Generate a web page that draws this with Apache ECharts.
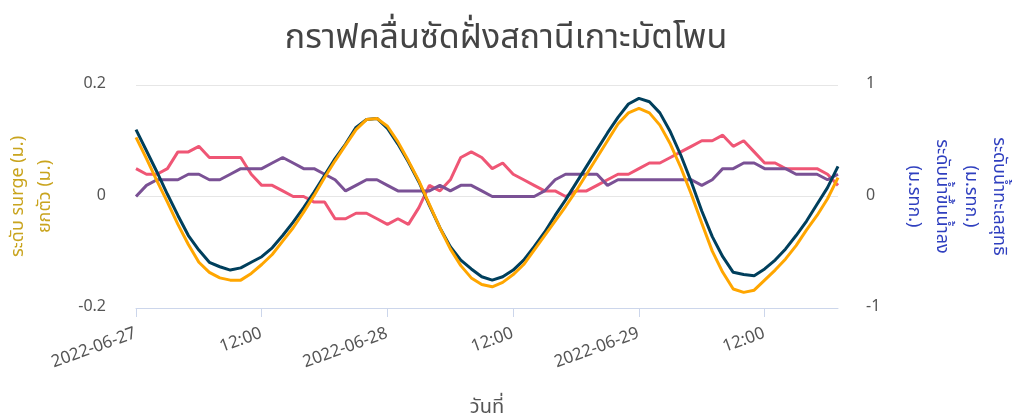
<!DOCTYPE html>
<html>
<head>
<meta charset="utf-8">
<title>กราฟคลื่นซัดฝั่งสถานีเกาะมัตโพน</title>
<script src="https://cdn.jsdelivr.net/npm/echarts@6/dist/echarts.min.js"></script>
<style>
  html, body { margin: 0; padding: 0; background: #ffffff; }
  #chart { width: 1012px; height: 416px; }
</style>
</head>
<body>
<div id="chart"></div>
<script>
// Hourly readings, 2022-06-27 00:00 to 2022-06-29 19:00
const startDate = new Date(2022, 5, 27, 0, 0);

// Net sea level (m. MSL), right axis
const netSeaLevel = [
  0.60, 0.41, 0.22, 0.02, -0.17, -0.35, -0.48, -0.59, -0.63, -0.66,
  -0.64, -0.59, -0.54, -0.46, -0.35, -0.23, -0.10, 0.04, 0.19, 0.34,
  0.47, 0.62, 0.69, 0.70, 0.61, 0.47, 0.31, 0.13, -0.08, -0.28,
  -0.45, -0.57, -0.65, -0.72, -0.75, -0.72, -0.66, -0.57, -0.45, -0.32,
  -0.17, -0.03, 0.12, 0.27, 0.42, 0.57, 0.71, 0.83, 0.88, 0.85,
  0.75, 0.58, 0.37, 0.13, -0.13, -0.36, -0.54, -0.68, -0.70, -0.71,
  -0.65, -0.57, -0.47, -0.35, -0.22, -0.07, 0.08, 0.27
];

// Astronomical tide (m. MSL), right axis
const tideLevel = [
  0.53, 0.34, 0.14, -0.05, -0.25, -0.43, -0.59, -0.68, -0.73, -0.75,
  -0.75, -0.69, -0.61, -0.52, -0.40, -0.28, -0.14, 0.01, 0.17, 0.32,
  0.46, 0.60, 0.69, 0.70, 0.63, 0.49, 0.32, 0.14, -0.07, -0.28,
  -0.47, -0.62, -0.73, -0.79, -0.81, -0.77, -0.70, -0.61, -0.48, -0.35,
  -0.22, -0.09, 0.05, 0.20, 0.35, 0.50, 0.65, 0.75, 0.79, 0.75,
  0.64, 0.47, 0.26, 0.02, -0.24, -0.49, -0.68, -0.83, -0.86, -0.84,
  -0.75, -0.66, -0.56, -0.44, -0.30, -0.17, -0.02, 0.17
];

// Storm surge (m.), left axis
const surgeLevel = [
  0.05, 0.04, 0.04, 0.05, 0.08, 0.08, 0.09, 0.07, 0.07, 0.07,
  0.07, 0.04, 0.02, 0.02, 0.01, 0.00, 0.00, -0.01, -0.01, -0.04,
  -0.04, -0.03, -0.03, -0.04, -0.05, -0.04, -0.05, -0.02, 0.02, 0.01,
  0.03, 0.07, 0.08, 0.07, 0.05, 0.06, 0.04, 0.03, 0.02, 0.01,
  0.01, 0.00, 0.01, 0.01, 0.02, 0.03, 0.04, 0.04, 0.05, 0.06,
  0.06, 0.07, 0.08, 0.09, 0.10, 0.10, 0.11, 0.09, 0.10, 0.08,
  0.06, 0.06, 0.05, 0.05, 0.05, 0.05, 0.04, 0.02
];

// Wave setup (m.), left axis
const setupLevel = [
  0.00, 0.02, 0.03, 0.03, 0.03, 0.04, 0.04, 0.03, 0.03, 0.04,
  0.05, 0.05, 0.05, 0.06, 0.07, 0.06, 0.05, 0.05, 0.04, 0.03,
  0.01, 0.02, 0.03, 0.03, 0.02, 0.01, 0.01, 0.01, 0.01, 0.02,
  0.01, 0.02, 0.02, 0.01, 0.00, 0.00, 0.00, 0.00, 0.00, 0.01,
  0.03, 0.04, 0.04, 0.04, 0.04, 0.02, 0.03, 0.03, 0.03, 0.03,
  0.03, 0.03, 0.03, 0.03, 0.02, 0.03, 0.05, 0.05, 0.06, 0.06,
  0.05, 0.05, 0.05, 0.04, 0.04, 0.04, 0.03, 0.04
];

const leftTicks = { min: -0.2, max: 0.2, step: 0.2 };
const rightTicks = { min: -1, max: 1, step: 1 };

const pad = n => String(n).padStart(2, '0');
const hourLabels = netSeaLevel.map((_, i) => {
  const d = new Date(startDate.getTime() + i * 3600 * 1000);
  return d.getFullYear() + '-' + pad(d.getMonth() + 1) + '-' + pad(d.getDate()) +
    ' ' + pad(d.getHours()) + ':00';
});

const FONT = '"Noto Sans Thai", "Noto Sans", sans-serif';
const everyHalfDay = idx => idx % 12 === 0;

const chart = echarts.init(document.getElementById('chart'), null, { renderer: 'canvas' });

const lineSeries = (name, data, color, axisIndex) => ({
  name: name,
  type: 'line',
  yAxisIndex: axisIndex,
  data: data,
  showSymbol: false,
  symbol: 'none',
  lineStyle: { color: color, width: 3 },
  itemStyle: { color: color },
  emphasis: { disabled: true },
  animation: false
});

chart.setOption({
  backgroundColor: '#ffffff',
  textStyle: { fontFamily: FONT },
  title: {
    text: 'กราฟคลื่นซัดฝั่งสถานีเกาะมัตโพน',
    left: 'center',
    top: 19,
    textStyle: { fontFamily: FONT, fontSize: 34, fontWeight: 'normal', color: '#444444' }
  },
  grid: { left: 136, right: 174, top: 85, bottom: 108, containLabel: false, outerBoundsMode: 'none' },
  xAxis: {
    type: 'category',
    data: hourLabels,
    boundaryGap: false,
    name: 'วันที่',
    nameLocation: 'middle',
    nameGap: 91,
    nameTextStyle: { fontFamily: FONT, fontSize: 20, color: '#555555' },
    axisLine: { onZero: false, lineStyle: { color: '#ccd6eb', width: 1 } },
    axisTick: { show: true, interval: everyHalfDay, length: 9, lineStyle: { color: '#ccd6eb' } },
    axisLabel: {
      interval: everyHalfDay,
      rotate: 20,
      margin: 26,
      fontFamily: FONT,
      fontSize: 17,
      color: '#555555',
      formatter: v => v.slice(11) === '00:00' ? v.slice(0, 10) : v.slice(11)
    },
    splitLine: { show: false }
  },
  yAxis: [
    {
      type: 'value',
      position: 'left',
      min: leftTicks.min,
      max: leftTicks.max,
      interval: leftTicks.step,
      name: 'ระดับ surge (ม.)\nยกตัว (ม.)',
      nameLocation: 'middle',
      nameGap: 76,
      nameTextStyle: { fontFamily: FONT, fontSize: 18, color: '#c9a41e', lineHeight: 27, align: 'center' },
      axisLine: { show: false },
      axisTick: { show: false },
      axisLabel: { fontFamily: FONT, fontSize: 16, color: '#555555', margin: 30 },
      splitLine: { show: true, lineStyle: { color: '#e6e6e6', width: 1 } }
    },
    {
      type: 'value',
      position: 'right',
      min: rightTicks.min,
      max: rightTicks.max,
      interval: rightTicks.step,
      name: 'ระดับน้ำทะเลสุทธิ\n(ม.รทก.)\nระดับน้ำขึ้นน้ำลง\n(ม.รทก.)',
      nameLocation: 'middle',
      nameRotate: -90,
      nameGap: 60,
      nameTextStyle: { fontFamily: FONT, fontSize: 18, color: '#2f3fbf', lineHeight: 28.5, align: 'center' },
      axisLine: { show: false },
      axisTick: { show: false },
      axisLabel: { fontFamily: FONT, fontSize: 16, color: '#555555', margin: 28 },
      splitLine: { show: false }
    }
  ],
  series: [
    lineSeries('ระดับ surge', surgeLevel, '#ef5675', 0),
    lineSeries('ยกตัว', setupLevel, '#7a5195', 0),
    lineSeries('ระดับน้ำทะเลสุทธิ', netSeaLevel, '#003f5c', 1),
    lineSeries('ระดับน้ำขึ้นน้ำลง', tideLevel, '#ffa600', 1)
  ]
});
</script>
</body>
</html>
